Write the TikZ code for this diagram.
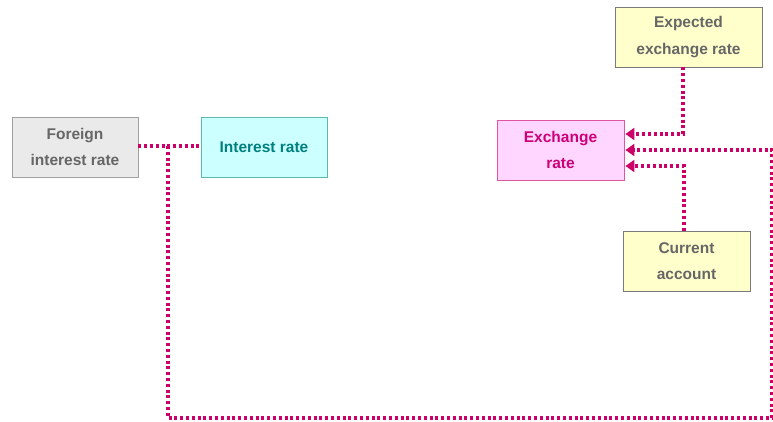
\documentclass[tikz,border=0pt]{standalone}
\usepackage{fontspec}
\setmainfont{Liberation Sans}
\usetikzlibrary{arrows.meta}
\definecolor{conncol}{HTML}{CC0066}
\definecolor{graytxt}{HTML}{666666}
\definecolor{grayfill}{HTML}{EAEAEA}
\definecolor{graydraw}{HTML}{A0A0A0}
\definecolor{cyanfill}{HTML}{CCFFFF}
\definecolor{cyandraw}{HTML}{5FB8B0}
\definecolor{cyantxt}{HTML}{007F7F}
\definecolor{pinkfill}{HTML}{FFD6FF}
\definecolor{pinkdraw}{HTML}{E0559F}
\definecolor{pinktxt}{HTML}{CC0077}
\definecolor{yelfill}{HTML}{FFFFCC}
\definecolor{yeldraw}{HTML}{7A7A7A}
\tikzset{
  box/.style={draw, line width=0.9pt, minimum width=126pt, minimum height=60pt, inner sep=0pt,
    align=center, font={\fontsize{15.5}{26.5}\selectfont\bfseries}},
  graybox/.style={box, fill=grayfill, draw=graydraw, text=graytxt},
  cyanbox/.style={box, fill=cyanfill, draw=cyandraw, text=cyantxt},
  pinkbox/.style={box, fill=pinkfill, draw=pinkdraw, text=pinktxt},
  yelbox/.style={box, fill=yelfill, draw=yeldraw, text=graytxt},
  conn/.style={draw=conncol, line width=3.2pt, dash pattern=on 3pt off 2.8pt},
  arr/.style={conn, -{Triangle[length=9pt,width=12pt,fill=conncol]}, shorten >=1pt}
}
\begin{document}
\begin{tikzpicture}[x=1pt,y=-1pt]
\useasboundingbox (0,0) rectangle (773,422);
\node[graybox] (fir) at (75,147) {Foreign\\interest rate};
\node[cyanbox] (ir) at (264,147) {Interest rate};
\node[pinkbox, minimum width=127pt] (ex) at (560.5,150) {Exchange\\rate};
\node[yelbox, minimum width=147pt] (exp) at (688.5,37) {Expected\\exchange rate};
\node[yelbox, minimum width=127pt] (cur) at (686.5,261) {Current\\account};
\coordinate (j) at (168,146);
\coordinate (c1) at (168,418);
\coordinate (c2) at (772,418);
\coordinate (c3) at (772,150);
\draw[conn] ([yshift=1pt]fir.east) -- ([yshift=1pt]ir.west);
\draw[arr] (j) -- (c1) -- (c2) -- (c3) -- (ex.east);
\draw[arr] ([xshift=-5.5pt]exp.south) |- ([yshift=16pt]ex.east);
\draw[arr] ([xshift=-2.5pt]cur.north) |- ([yshift=-16pt]ex.east);
\end{tikzpicture}
\end{document}
